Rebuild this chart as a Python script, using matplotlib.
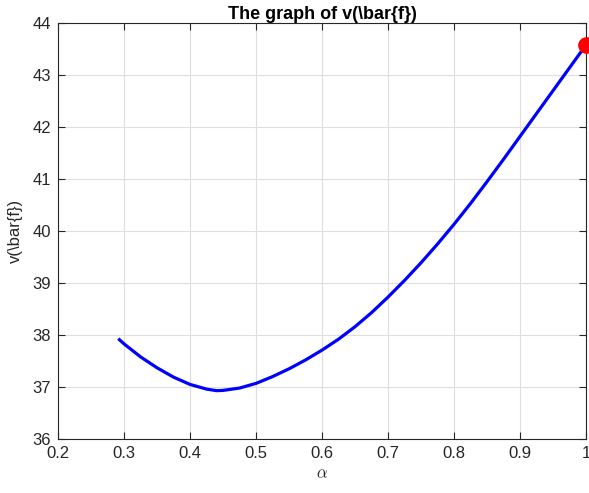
import numpy as np
import matplotlib
matplotlib.use("Agg")
import matplotlib.pyplot as plt

# values
alpha = [0.293, 0.30, 0.325, 0.35, 0.375, 0.40, 0.425, 0.44, 0.45, 0.475,
         0.50, 0.525, 0.55, 0.575, 0.60, 0.625, 0.65, 0.675, 0.70, 0.725,
         0.75, 0.775, 0.80, 0.825, 0.85, 0.875, 0.90, 0.925, 0.95, 0.975, 1.00]
v = [37.91, 37.83, 37.58, 37.37, 37.19, 37.05, 36.96, 36.93, 36.935, 36.98,
     37.07, 37.20, 37.35, 37.52, 37.71, 37.92, 38.16, 38.43, 38.73, 39.05,
     39.39, 39.75, 40.13, 40.53, 40.95, 41.38, 41.82, 42.26, 42.70, 43.14, 43.58]
end_pt = (1.0, 43.58)

xticks = [0.2, 0.3, 0.4, 0.5, 0.6, 0.7, 0.8, 0.9, 1.0]
xticklabels = ["0.2", "0.3", "0.4", "0.5", "0.6", "0.7", "0.8", "0.9", "1"]
yticks = [36, 37, 38, 39, 40, 41, 42, 43, 44]

plt.rcParams['font.family'] = ['Liberation Sans', 'DejaVu Sans']
plt.rcParams['mathtext.fontset'] = 'cm'

fig = plt.figure(figsize=(5.89, 4.93), dpi=100)
ax = fig.add_axes([0.0985, 0.1095, 0.8965, 0.8438])

ax.plot(alpha, v, color=(0, 0, 1), linewidth=2.3, solid_joinstyle='round')
ax.plot(end_pt[0], end_pt[1], 'o', color=(1, 0, 0), markersize=11, clip_on=False, zorder=5)

ax.set_xlim(0.2, 1.0)
ax.set_ylim(36, 44)
ax.set_xticks(xticks)
ax.set_xticklabels(xticklabels)
ax.set_yticks(yticks)

gray = '#262626'
ax.grid(True, color='#dedede', linewidth=0.8)
ax.set_axisbelow(True)
for s in ax.spines.values():
    s.set_color(gray)
    s.set_linewidth(0.8)
ax.tick_params(direction='in', length=5, width=0.8, colors=gray, labelsize=12,
               top=True, right=True, labelcolor=gray, pad=5)

ax.set_title(r'The graph of v(\bar{f})', fontsize=13, fontweight='bold', pad=3)
ax.set_ylabel(r'v(\bar{f})', fontsize=12, color=gray, labelpad=7)
ax.set_xlabel(r'$\alpha$', fontsize=12, color=gray, labelpad=4)

fig.savefig('out.png', dpi=100)
